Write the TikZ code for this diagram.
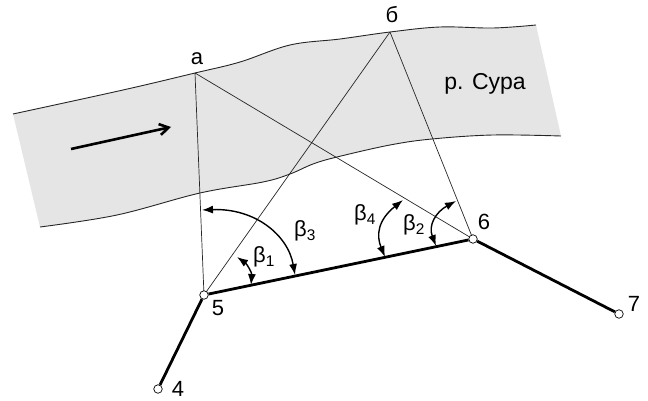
\documentclass[tikz,border=0pt]{standalone}
\usepackage{fontspec}
\setmainfont{Liberation Sans}
\usetikzlibrary{arrows.meta}
\tikzset{
 sight/.style={draw=black!85,line width=0.7pt},
 course/.style={draw=black,line width=2.8pt},
 station/.style={circle,draw=black,fill=white,line width=0.7pt,minimum size=8.5pt,inner sep=0pt},
 lab/.style={inner sep=0pt,font=\fontsize{22}{24}\selectfont},
 ang/.style={draw=black,line width=1.4pt,{Latex[length=11pt,width=8pt]}-{Latex[length=11pt,width=8pt]}},
 bank/.style={draw=black!85,line width=0.9pt}
}
\newcommand{\topbank}{(13,114) (123,90) (195,73) (240,62) (290,45) (340,39) (390,32) (440,27) (493,28) (536,25)}
\newcommand{\lowbank}{(561,136) (493,135) (432,139) (390,145) (337,157) (313,164) (290,174) (263,182) (200,193) (117,215) (40,227)}
\begin{document}
\begin{tikzpicture}[x=1pt,y=-1pt]
\useasboundingbox (0,0) rectangle (648,401);
\fill[black!10] plot[smooth,tension=0.6] coordinates {\topbank} -- plot[smooth,tension=0.6] coordinates {\lowbank} -- cycle;
\draw[bank] plot[smooth,tension=0.6] coordinates {\topbank};
\draw[bank] plot[smooth,tension=0.6] coordinates {\lowbank};
\coordinate (a) at (195,73);
\coordinate (b) at (390,32);
\coordinate (c5) at (204,295);
\coordinate (c6) at (473,239);
\draw[sight] (a) -- (c5) (a) -- (c6) (b) -- (c5) (b) -- (c6);
\node[station] (s5) at (c5) {};
\node[station] (s6) at (c6) {};
\node[station] (s7) at (619,314) {};
\node[station] (s4) at (158,389) {};
\draw[course] (s5) -- (s6);
\draw[course] (s5) -- (s4);
\draw[course] (s6) -- (s7);
\coordinate (f1) at (71,149);
\coordinate (f2) at (171,127);
\draw[line width=2.6pt,-{Straight Barb[length=9pt,width=11pt]}] (f1) -- (f2);
\coordinate (p1) at (251,285);
\coordinate (p2) at (237,257);
\draw[ang] (p1) .. controls (252,273) and (247,264) .. (p2);
\coordinate (p3) at (295,275);
\coordinate (p4) at (202,210);
\draw[ang] (p3) .. controls (288,235) and (255,208) .. (p4);
\coordinate (p5) at (385,257);
\coordinate (p6) at (403,200);
\draw[ang] (p5) .. controls (376,235) and (378,220) .. (p6);
\coordinate (p7) at (436,246);
\coordinate (p8) at (456,201);
\draw[ang] (p7) .. controls (428,225) and (436,212) .. (p8);
\node[lab] (la) at (197,59) {а};
\node[lab] (lb) at (392,15) {б};
\node[lab] (l5) at (218,308) {5};
\node[lab] (l6) at (484,222) {6};
\node[lab] (l7) at (634,304) {7};
\node[lab] (l4) at (178,389) {4};
\node[lab,font=\fontsize{23}{25}\selectfont] (river) at (485,84) {р. Сура};
\node[lab] (b1) at (264,257) {β\textsubscript{1}};
\node[lab] (b3) at (305,231) {β\textsubscript{3}};
\node[lab] (b4) at (365,215) {β\textsubscript{4}};
\node[lab] (b2) at (414,225) {β\textsubscript{2}};
\end{tikzpicture}
\end{document}
